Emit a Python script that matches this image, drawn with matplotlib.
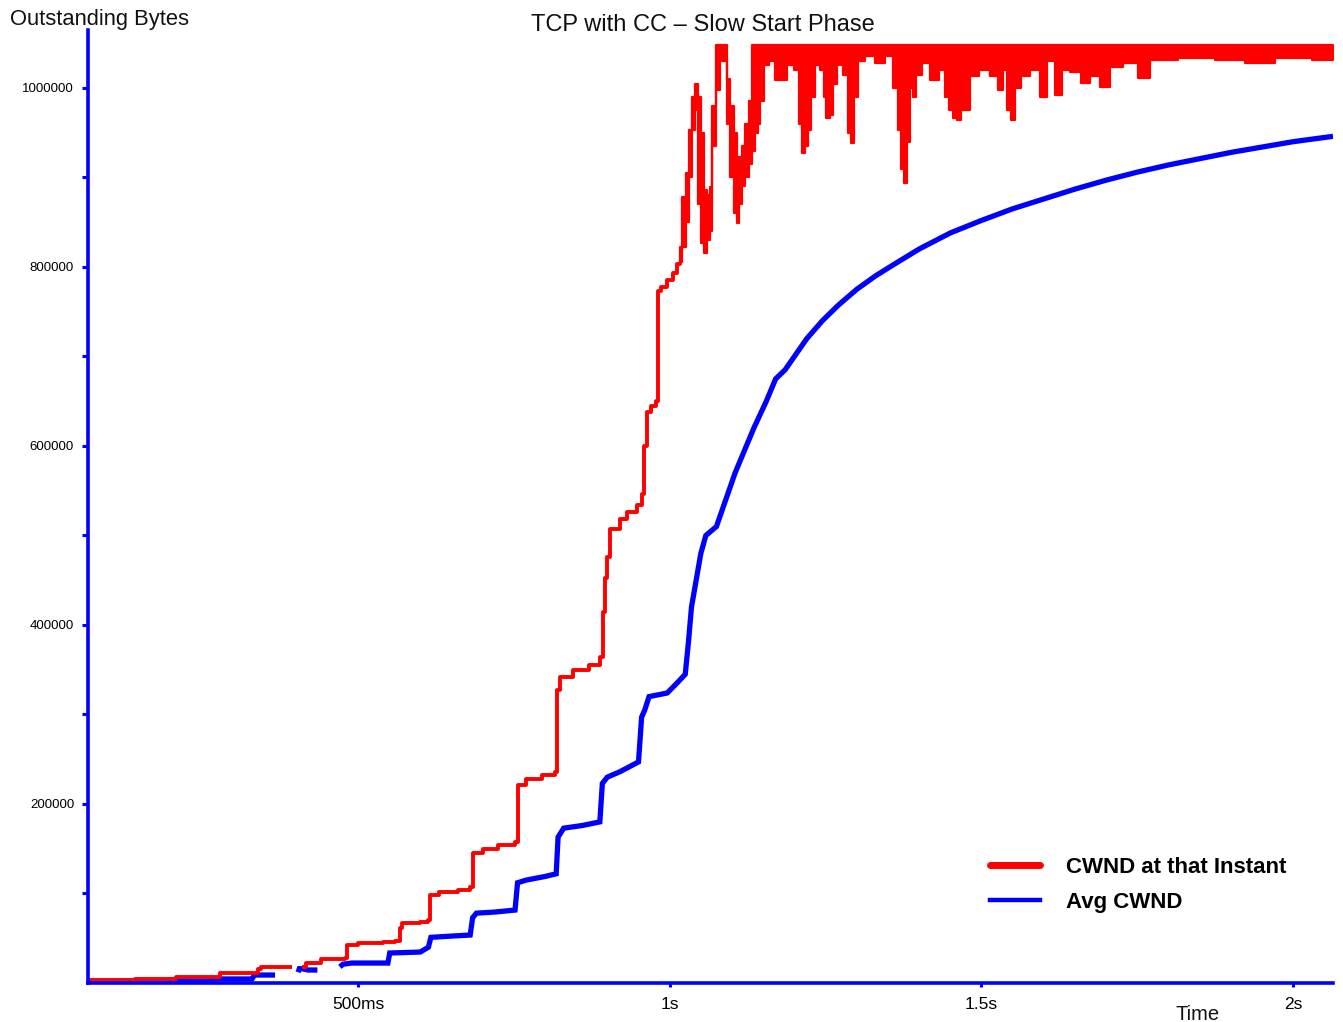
import numpy as np
import matplotlib
matplotlib.use("Agg")
import matplotlib.pyplot as plt
from matplotlib.lines import Line2D

plt.rcParams['font.family'] = ['Liberation Sans', 'DejaVu Sans']

nan = np.nan
# ---------------- data (time in ms, outstanding bytes) ----------------
# CWND at that instant: staircase part (slow start)
red_t = [67, 142, 208, 278, 340, 345, 372, 395, 410, 416, 440, 479, 483, 500, 540,
         560, 567, 570, 600, 612, 616, 630, 660, 680, 684, 700, 725, 752, 756, 770,
         795, 816, 820, 824, 845, 870, 888, 893, 896, 900, 904, 920, 932, 948,
         955, 959, 963, 970, 978, 981, 986, 996, 1005, 1012, 1017]
red_v = [3350, 4470, 6700, 11170, 15640, 17880, 17880, nan, 17880, 22350, 27000, 27900,
         42460, 44700, 45800, 47000, 62000, 67040, 68500, 70400, 98300, 102000, 104000,
         107000, 145000, 150000, 154000, 157500, 221000, 228000, 232000, 236000,
         327000, 342000, 350000, 355000, 364000, 414000, 452000, 476000, 507000,
         518000, 526000, 534000, 546000, 600000, 638000, 645000, 650000, 773000,
         778000, 785000, 793000, 803000, 806000]

# CWND at that instant: noisy part near the window limit (low / high per sample)
red_nt = [1017, 1023, 1028, 1033, 1039, 1043, 1048, 1053, 1057, 1062, 1066, 1071,
          1078, 1084, 1090, 1095, 1100, 1105, 1110, 1114, 1119, 1124, 1129, 1134,
          1139, 1143, 1148, 1155, 1164, 1174, 1182, 1193, 1205, 1209, 1214, 1219,
          1224, 1229, 1237, 1245, 1249, 1254, 1259, 1264, 1274, 1283, 1288, 1293,
          1298, 1306, 1322, 1338, 1354, 1363, 1368, 1373, 1378, 1383, 1388, 1392,
          1399, 1410, 1426, 1437, 1445, 1451, 1458, 1464, 1471, 1477, 1485, 1506,
          1522, 1532, 1538, 1545, 1551, 1557, 1570, 1586, 1602, 1610, 1626, 1634,
          1650, 1668, 1682, 1700, 1714, 1739, 1763, 1779, 1851, 1899, 1947, 1996, 2064]
red_lo = [806000, 822000, 850000, 900000, 953000, 975000, 870000, 827000, 816000,
          830000, 840000, 935000, 998000, 1030000, 1030000, 960000, 900000, 860000,
          849000, 870000, 890000, 900000, 915000, 930000, 950000, 960000, 985000,
          1026000, 1030000, 1009000, 1009000, 1026000, 1020000, 960000, 927000,
          935000, 953000, 990000, 1026000, 1020000, 990000, 967000, 970000, 1005000,
          1026000, 1015000, 950000, 938000, 990000, 1030000, 1036000, 1028000,
          1036000, 1000000, 953000, 910000, 894000, 940000, 1000000, 990000,
          1015000, 1028000, 1009000, 1020000, 990000, 975000, 966000, 964000,
          975000, 975000, 1013000, 1020000, 1013000, 998000, 1020000, 975000,
          964000, 1000000, 1013000, 1020000, 990000, 1030000, 992000, 1020000,
          1018000, 1006000, 1013000, 1001000, 1024000, 1028000, 1011000, 1031000,
          1033000, 1031000, 1028000, 1033000, 1031000]
red_hi = [822000, 878000, 905000, 953000, 990000, 1005000, 990000, 950000, 886000,
          880000, 889000, 980000, 1048576, 1048576, 1048576, 1010000, 980000, 950000,
          923000, 923000, 935000, 960000, 985000] + [1048576] * 74

# Avg CWND
blue_t = [67, 140, 210, 280, 330, 334, 367, 370, 404, 406, 410, 420, 435, 440, 471,
          476, 490, 505, 548, 551, 600, 613, 617, 640, 680, 684, 690, 720, 752, 756,
          770, 800, 818, 821, 830, 860, 888, 892, 900, 920, 950, 955, 960, 967, 996,
          1013, 1025, 1030, 1035, 1040, 1050, 1058, 1075, 1090, 1105, 1120, 1135,
          1155, 1170, 1185, 1200, 1220, 1245, 1270, 1300, 1330, 1360, 1400, 1450,
          1500, 1550, 1600, 1650, 1700, 1750, 1800, 1850, 1900, 1950, 2000, 2064]
blue_v = [1100, 2200, 3400, 4500, 4500, 8900, 8900, nan, 12000, 16000, 16000, 14500,
          14500, nan, 18000, 21000, 22300, 22300, 22300, 33500, 34600, 40000, 51000,
          52000, 53600, 73000, 78000, 79300, 81500, 112000, 115000, 119000, 122000,
          163000, 173000, 176000, 180000, 223000, 230000, 236000, 247000, 297000,
          305000, 320000, 324000, 336000, 345000, 380000, 420000, 440000, 480000,
          500000, 510000, 540000, 570000, 595000, 620000, 650000, 675000, 685000,
          700000, 720000, 740000, 757000, 775000, 790000, 803000, 820000, 838000,
          852000, 865000, 876000, 887000, 897000, 906000, 914000, 921000, 928000,
          934000, 940000, 946000]

x_ticks = [500, 1000, 1500, 2000]
x_labels = ['500ms', '1s', '1.5s', '2s']
y_ticks = [200000, 400000, 600000, 800000, 1000000]
y_labels = ['200000', '400000', '600000', '800000', '1000000']

RED = '#ff0000'
BLUE = '#0000ff'

W, H = 1343, 1022
fig = plt.figure(figsize=(W / 100, H / 100), dpi=100)
ax = fig.add_axes([88 / W, 39 / H, (1333 - 88) / W, (983 - 30) / H])

ax.plot(blue_t, blue_v, color=BLUE, lw=3.8, solid_capstyle='butt',
        solid_joinstyle='miter', zorder=3)
ax.plot(red_t, red_v, color=RED, lw=2.8, drawstyle='steps-post',
        solid_capstyle='butt', zorder=4)
ax.fill_between(red_nt, red_lo, red_hi, step='mid', color=RED, lw=1.6,
                edgecolor=RED, zorder=4)

ax.set_xlim(67, 2064)
ax.set_ylim(0, 1064800)

for s in ['top', 'right']:
    ax.spines[s].set_visible(False)
for s in ['left', 'bottom']:
    ax.spines[s].set_color(BLUE)
    ax.spines[s].set_linewidth(2.6)
    ax.spines[s].set_zorder(6)

ax.set_xticks(x_ticks)
ax.set_xticklabels(x_labels, fontsize=12.5)
ax.set_yticks(y_ticks)
ax.set_yticklabels(y_labels, fontsize=9.5)
ax.set_yticks(np.arange(100000, 1000001, 200000), minor=True)
ax.tick_params(axis='y', which='both', direction='out', length=4, width=2.2,
               color=BLUE, pad=6)
ax.tick_params(axis='x', which='major', direction='out', length=3, width=2.2,
               color=BLUE, pad=7)
ax.set_facecolor('white')

fig.text(703 / W, 1 - 25 / H, 'TCP with CC \u2013 Slow Start Phase', ha='center',
         va='center', fontsize=17, color='#111111')
fig.text(10 / W, 1 - 19 / H, 'Outstanding Bytes', ha='left', va='center',
         fontsize=15.8, color='#111111')
fig.text(1198 / W, 1 - 1014 / H, 'Time', ha='center', va='center', fontsize=14.5,
         color='#111111')

handles = [Line2D([], [], color=RED, lw=5, solid_capstyle='round'),
           Line2D([], [], color=BLUE, lw=3.2)]
ax.legend(handles, ['CWND at that Instant', 'Avg CWND'], loc='upper left',
          bbox_to_anchor=(990 / W, 1 - 857 / H), bbox_transform=fig.transFigure,
          frameon=False, prop={'size': 16, 'weight': 'bold'}, handlelength=2.25,
          handletextpad=1.15, labelspacing=0.64, borderaxespad=0, borderpad=0)

fig.savefig('out.png', dpi=100, facecolor='white')
